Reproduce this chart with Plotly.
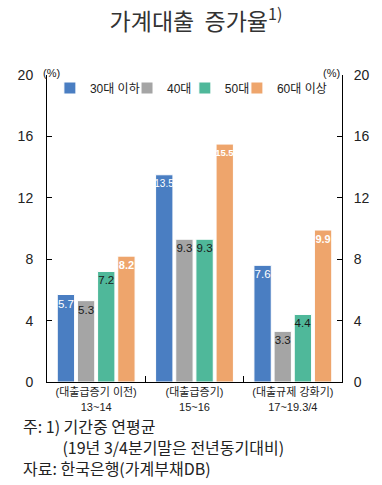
import plotly.graph_objects as go

stages = ["(대출급증기 이전)", "(대출급증기)", "(대출규제 강화기)"]
periods = ["13~14", "15~16", "17~19.3/4"]
series_names = ["30대 이하", "40대", "50대", "60대 이상"]
v30 = [5.7, 13.5, 7.6]
v40 = [5.3, 9.3, 3.3]
v50 = [7.2, 9.3, 4.4]
v60 = [8.2, 15.5, 9.9]
y_ticks = [0, 4, 8, 12, 16, 20]

categories = [f"{s}<br>{p}" for s, p in zip(stages, periods)]
colors = ["#4A7EC2", "#A5A5A5", "#4FB89A", "#EEA56C"]
label_colors = ["#FFFFFF", "#1A1A1A", "#1A1A1A", "#FFFFFF"]
label_bold = [False, False, False, True]
values = [v30, v40, v50, v60]

NUM = "Liberation Sans, Arial, Noto Sans CJK KR, sans-serif"
CJK = "Noto Sans CJK KR, sans-serif"

W, H = 382, 485
L, T = 47, 75
R = W - 353
B = H - 382
pw, ph = W - L - R, H - T - B

def px_x(px):
    return (px - L) / pw

def px_y(py):
    return (H - B - py) / ph

legend_x0 = [50, 130, 190, 244]

fig = go.Figure()
for i, (name, vals) in enumerate(zip(series_names, values)):
    labels = [f"{v:.1f}" for v in vals]
    if label_bold[i]:
        sizes = [(9.5 if len(t) > 3 else 11) for t in labels]
    else:
        sizes = [(10 if len(t) > 3 else 11.5) for t in labels]
    fig.add_trace(go.Bar(
        x=categories, y=vals, name=name,
        marker=dict(color=colors[i], line=dict(color="#FFFFFF", width=1)),
        text=labels,
        textposition="inside", insidetextanchor="end",
        textangle=0, constraintext="none",
        textfont=dict(family=NUM, size=sizes,
                      color=label_colors[i],
                      weight="bold" if label_bold[i] else "normal"),
        legend="legend" if i == 0 else f"legend{i+1}",
        hoverinfo="skip",
    ))

fig.add_trace(go.Scatter(x=categories, y=[None] * 3, yaxis="y2",
                         showlegend=False, hoverinfo="skip"))

axis_common = dict(range=[0, 20], tickvals=y_ticks, ticks="inside", ticklen=5,
                   tickcolor="#000", showline=True, linecolor="#000", linewidth=1,
                   showgrid=False, zeroline=False,
                   tickfont=dict(family=NUM, size=14, color="#222"))

legend_common = dict(orientation="h", yanchor="middle", xanchor="left",
                     y=px_y(88), bgcolor="rgba(0,0,0,0)",
                     font=dict(family=NUM, size=12, color="#222"))

layout_legends = {}
for i, x0 in enumerate(legend_x0):
    key = "legend" if i == 0 else f"legend{i+1}"
    layout_legends[key] = dict(legend_common, x=px_x(x0))

fig.update_layout(
    width=W, height=H,
    margin=dict(l=L, r=R, t=T, b=B),
    paper_bgcolor="#FFFFFF", plot_bgcolor="#FFFFFF",
    barmode="group", bargap=0.18, bargroupgap=0.14,
    title=dict(text="가계대출  증가율<sup>1)</sup>", x=196 / W, xref="container",
               xanchor="center",
               y=1 - 22 / H, yref="container", yanchor="middle",
               font=dict(family=CJK, size=23, color="#333")),
    xaxis=dict(range=[-0.5, 2.5], showline=True, linecolor="#000", linewidth=1,
               ticks="inside", tickson="boundaries", ticklen=6, tickcolor="#000",
               showgrid=False, tickfont=dict(family=NUM, size=11, color="#222")),
    yaxis=dict(axis_common, side="left", ticklabelstandoff=10),
    yaxis2=dict(axis_common, side="right", overlaying="y", ticklabelstandoff=8),
    showlegend=True,
    **layout_legends,
)

ann_font = dict(family=NUM, size=11, color="#222")
fig.add_annotation(text="(%)", x=px_x(52), y=px_y(65), xref="paper", yref="paper",
                   xanchor="center", showarrow=False, font=ann_font)
fig.add_annotation(text="(%)", x=px_x(342), y=px_y(65), xref="paper", yref="paper",
                   xanchor="center", showarrow=False, font=ann_font)

note_lines = ["주: 1) 기간중 연평균",
              "&nbsp;" * 11 + "(19년 3/4분기말은 전년동기대비)",
              "자료: 한국은행(가계부채DB)"]
fig.add_annotation(text="<br>".join(note_lines), x=px_x(20), y=px_y(447),
                   xref="paper", yref="paper", xanchor="left", yanchor="middle",
                   align="left", showarrow=False,
                   font=dict(family=CJK, size=16, color="#222"))

# remove the browser's default 8px body margin so the figure fills the window
fig.write_html("out.html", config={"displayModeBar": False},
               post_script="document.body.style.margin='0px';")
